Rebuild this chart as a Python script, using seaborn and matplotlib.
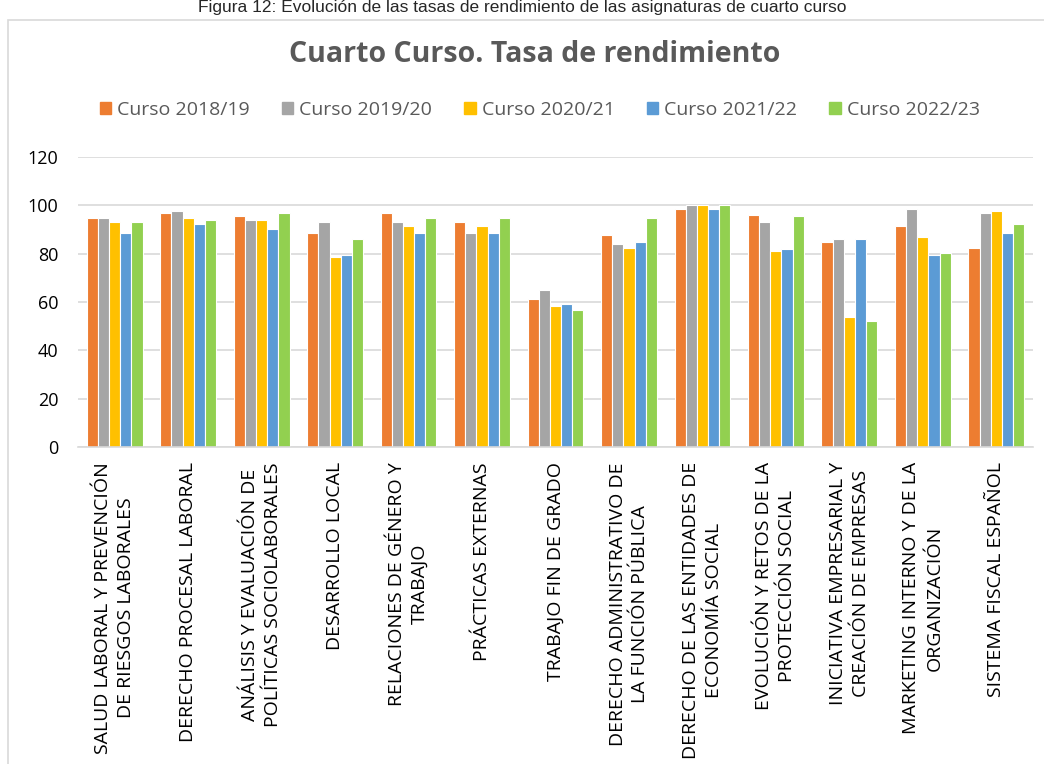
import pandas as pd
import seaborn as sns
import matplotlib.pyplot as plt
from matplotlib.patches import Rectangle

asignaturas = [
    'SALUD LABORAL Y PREVENCIÓN\nDE RIESGOS LABORALES',
    'DERECHO PROCESAL LABORAL',
    'ANÁLISIS Y EVALUACIÓN DE\nPOLÍTICAS SOCIOLABORALES',
    'DESARROLLO LOCAL',
    'RELACIONES DE GÉNERO Y\nTRABAJO',
    'PRÁCTICAS EXTERNAS',
    'TRABAJO FIN DE GRADO',
    'DERECHO ADMINISTRATIVO DE\nLA FUNCIÓN PÚBLICA',
    'DERECHO DE LAS ENTIDADES DE\nECONOMÍA SOCIAL',
    'EVOLUCIÓN Y RETOS DE LA\nPROTECCIÓN SOCIAL',
    'INICIATIVA EMPRESARIAL Y\nCREACIÓN DE EMPRESAS',
    'MARKETING INTERNO Y DE LA\nORGANIZACIÓN',
    'SISTEMA FISCAL ESPAÑOL',
]
cursos = ['Curso 2018/19', 'Curso 2019/20', 'Curso 2020/21', 'Curso 2021/22', 'Curso 2022/23']

c2018 = [94.6, 97.0, 95.4, 88.6, 97.0, 93.1, 61.2, 87.7, 98.3, 96.1, 84.8, 91.6, 82.5]
c2019 = [94.6, 97.8, 93.9, 93.1, 93.1, 88.6, 65.1, 84.0, 100.0, 93.1, 86.2, 98.3, 97.0]
c2020 = [93.1, 94.6, 93.9, 78.8, 91.6, 91.6, 58.2, 82.5, 100.0, 81.0, 53.7, 87.0, 97.8]
c2021 = [88.6, 92.4, 90.2, 79.6, 88.6, 88.6, 59.0, 84.8, 98.3, 81.9, 86.2, 79.6, 88.6]
c2022 = [93.1, 93.9, 97.0, 86.2, 94.6, 94.6, 56.8, 94.6, 100.0, 95.4, 52.3, 80.1, 92.4]

colores = ['#ED7D31', '#A5A5A5', '#FFC000', '#5B9BD5', '#92D050']

rows = []
for curso, vals in zip(cursos, [c2018, c2019, c2020, c2021, c2022]):
    for a, v in zip(asignaturas, vals):
        rows.append({'asignatura': a, 'curso': curso, 'tasa': v})
data = pd.DataFrame(rows)

sns.set_style('white')
plt.rcParams['font.family'] = ['Open Sans', 'DejaVu Sans']

fig = plt.figure(figsize=(10.44, 7.64), dpi=100)
ax = fig.add_axes([0.0747, 0.415, 0.9148, 0.3795])

sns.barplot(data=data, x='asignatura', y='tasa', hue='curso', order=asignaturas,
            hue_order=cursos, palette=colores, saturation=1, width=0.76, edgecolor='white',
            linewidth=0.8, ax=ax, legend=False)

ax.set_ylim(0, 120)
ax.set_yticks(range(0, 121, 20))
ax.set_xlim(-0.5, len(asignaturas) - 0.5)
ax.yaxis.grid(True, color='#d9d9d9', linewidth=1.2)
ax.set_axisbelow(True)
for s in ['top', 'right', 'left']:
    ax.spines[s].set_visible(False)
ax.spines['bottom'].set_color('#d9d9d9')
ax.spines['bottom'].set_linewidth(1.2)
ax.tick_params(axis='both', length=0, labelsize=13, colors='black')
ax.tick_params(axis='x', pad=11)
ax.tick_params(axis='y', pad=14)
ax.set_xticks(range(len(asignaturas)))
ax.set_xticklabels(asignaturas, rotation=90, multialignment='center', fontsize=14,
                   linespacing=1.35)
ax.set_xlabel('')
ax.set_ylabel('')

handles = [Rectangle((0, 0), 1, 1, color=c) for c in colores]
fig.legend(handles, cursos, loc='center', bbox_to_anchor=(0.517, 1 - 110 / 764), ncol=5,
           frameon=False, fontsize=14, handlelength=0.6, handleheight=0.6,
           handletextpad=0.3, columnspacing=1.65, labelcolor='#595959')

fig.text(0.512, 1 - 55 / 764, 'Cuarto Curso. Tasa de rendimiento', ha='center', va='center',
         fontsize=20.5, fontweight='bold', color='#595959')
fig.text(0.5, 1.0, 'Figura 12: Evolución de las tasas de rendimiento de las asignaturas de cuarto curso',
         ha='center', va='top', fontsize=12.5, family='Liberation Sans')

fig.patches.append(Rectangle((8 / 1044, -0.01), 1.0, 1 - 20 / 764 + 0.01, transform=fig.transFigure,
                             fill=False, edgecolor='#d9d9d9', linewidth=1.2))

fig.savefig('out.png', dpi=100)
